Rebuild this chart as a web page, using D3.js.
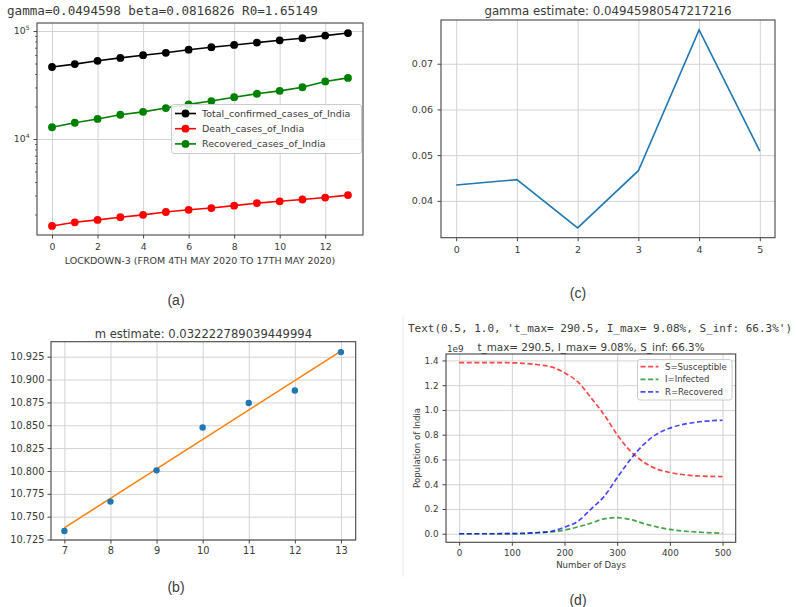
<!DOCTYPE html>
<html><head><meta charset="utf-8">
<script src="https://cdn.jsdelivr.net/npm/d3@7"></script>
<style>
body{margin:0;background:#fff}
svg{display:block}
text{font-family:'DejaVu Sans',sans-serif;fill:#3a3a3a}
</style>
</head><body>
<svg id="c" width="796" height="607"></svg>
<script>
// ---------------- DATA ----------------
// (a) Lockdown-3 cases (log scale)
const aDays = [0,1,2,3,4,5,6,7,8,9,10,11,12,13];
const aConfirmed = [46437,49400,52987,56351,59695,62808,67161,70768,74292,78055,81997,85784,90648,95698];
const aDeaths = [1568,1694,1783,1889,1985,2109,2212,2294,2415,2551,2649,2753,2871,3025];
const aRecovered = [12847,14142,15331,16776,17847,19358,20917,22455,24386,26235,27920,30153,34109,36795];
const aXTicks = [0,2,4,6,8,10,12];
const aYTicks = [1e4,1e5];
const aYMinor = [2e3,3e3,4e3,5e3,6e3,7e3,8e3,9e3,2e4,3e4,4e4,5e4,6e4,7e4,8e4,9e4];
const aSeriesNames = ["Total_confirmed_cases_of_India","Death_cases_of_India","Recovered_cases_of_India"];

// (b) m estimate
const bX = [7,8,9,10,11,12,13];
const bY = [10.7343,10.7665,10.8007,10.8475,10.8743,10.888,10.930];
const bFitX = [7,13];
const bFitY = [10.7378,10.9312];
const bXTicks = [7,8,9,10,11,12,13];
const bYTicks = [10.725,10.75,10.775,10.8,10.825,10.85,10.875,10.9,10.925];

// (c) gamma estimate
const cX = [0,1,2,3,4,5];
const cY = [0.04347,0.04464,0.0341,0.0466,0.0774,0.0509];
const cXTicks = [0,1,2,3,4,5];
const cYTicks = [0.04,0.05,0.06,0.07];

// (d) SIR model
const dDays = [0,50,100,150,175,200,225,250,275,300,325,350,375,400,450,500];
const dS = [1.383,1.383,1.381,1.365,1.348,1.30,1.228,1.10,0.963,0.80,0.668,0.58,0.523,0.495,0.468,0.462];
const dI = [0,0,0.001,0.008,0.015,0.03,0.055,0.085,0.12,0.13,0.115,0.083,0.055,0.035,0.014,0.004];
const dR = [0,0,0.001,0.01,0.02,0.053,0.10,0.198,0.30,0.453,0.60,0.72,0.805,0.853,0.901,0.917];
const dXTicks = [0,100,200,300,400,500];
const dYTicks = [0,0.2,0.4,0.6,0.8,1.0,1.2,1.4];
const dSeriesNames = ["S=Susceptible","I=Infected","R=Recovered"];

// ---------------- DRAWING ----------------
const GRID = '#d3d3d3', SPINE = '#454545', TXT = '#3a3a3a';
const svg = d3.select('#c');
svg.append('rect').attr('width',796).attr('height',607).attr('fill','#fff');

function grid(g, x, y, xt, yt) {
  const [yb, yt0] = y.range(), [xl, xr] = x.range();
  const gx = g.append('g').attr('transform',`translate(0,${yb})`)
    .call(d3.axisBottom(x).tickValues(xt).tickSize(-(yb-yt0)).tickFormat(''));
  const gy = g.append('g').attr('transform',`translate(${xl},0)`)
    .call(d3.axisLeft(y).tickValues(yt).tickSize(-(xr-xl)).tickFormat(''));
  [gx,gy].forEach(a=>{a.select('.domain').remove(); a.selectAll('line').attr('stroke',GRID).attr('stroke-width',1);});
}
function axes(g, x, y, xt, yt, xf, yf, fs, xpad, ypad) {
  const [yb] = y.range(), [xl] = x.range();
  const gx = g.append('g').attr('transform',`translate(0,${yb})`)
    .call(d3.axisBottom(x).tickValues(xt).tickSize(3.5).tickPadding(xpad).tickFormat(xf));
  const gy = g.append('g').attr('transform',`translate(${xl},0)`)
    .call(d3.axisLeft(y).tickValues(yt).tickSize(3.5).tickPadding(ypad).tickFormat(yf));
  [gx,gy].forEach(a=>{
    a.select('.domain').remove();
    a.selectAll('line').attr('stroke',SPINE).attr('stroke-width',1);
    a.selectAll('text').attr('font-size',fs).attr('fill',TXT).attr('font-family',"'DejaVu Sans',sans-serif");
  });
  return {gx, gy};
}
function spine(g, x, y) {
  const [xl,xr]=x.range(), [yb,yt]=y.range();
  g.append('rect').attr('x',xl).attr('y',yt).attr('width',xr-xl).attr('height',yb-yt)
    .attr('fill','none').attr('stroke',SPINE).attr('stroke-width',1.1);
}
function clip(id, x, y) {
  const [xl,xr]=x.range(), [yb,yt]=y.range();
  svg.append('clipPath').attr('id',id).append('rect').attr('x',xl).attr('y',yt).attr('width',xr-xl).attr('height',yb-yt);
}

// ===== Panel (a) =====
{
  const x = d3.scaleLinear().domain([-0.66,13.66]).range([37,363]);
  const y = d3.scaleLog().domain([1292,118600]).range([235,23]);
  const g = svg.append('g');
  grid(g, x, y, aXTicks, aYTicks);
  const {gy} = axes(g, x, y, aXTicks, aYTicks, d3.format('d'), d=>'', 9.3, 4.5, 4);
  gy.selectAll('.tick text').each(function(d){
    const t = d3.select(this);
    t.append('tspan').text('10');
    t.append('tspan').attr('dy',-4).attr('font-size',6).text(Math.round(Math.log10(d)));
  });
  const gm = g.append('g').attr('transform','translate(37,0)')
    .call(d3.axisLeft(y).tickValues(aYMinor).tickSize(2).tickFormat(''));
  gm.select('.domain').remove();
  gm.selectAll('line').attr('stroke',SPINE).attr('stroke-width',0.8);

  const series = [[aConfirmed,'#000000'],[aDeaths,'#ff0000'],[aRecovered,'#008000']];
  const line = d3.line().x((d,i)=>x(aDays[i])).y(d=>y(d));
  series.forEach(([vals,col])=>{
    g.append('path').datum(vals).attr('d',line).attr('fill','none').attr('stroke',col).attr('stroke-width',1.6);
    g.append('g').selectAll('circle').data(vals).join('circle')
      .attr('cx',(d,i)=>x(aDays[i])).attr('cy',d=>y(d)).attr('r',3.9).attr('fill',col);
  });
  spine(g, x, y);
  // legend
  const lg = g.append('g');
  lg.append('rect').attr('x',171.5).attr('y',104.5).attr('width',190).attr('height',49).attr('rx',2.5)
    .attr('fill','#fff').attr('fill-opacity',0.85).attr('stroke','#cccccc').attr('stroke-width',1);
  series.forEach(([vals,col],i)=>{
    const yy = 113.5 + i*15.2;
    lg.append('line').attr('x1',175).attr('x2',196).attr('y1',yy).attr('y2',yy).attr('stroke',col).attr('stroke-width',1.6);
    lg.append('circle').attr('cx',185.5).attr('cy',yy).attr('r',3.9).attr('fill',col);
    lg.append('text').attr('x',202).attr('y',yy+3.3).attr('font-size',9.5).text(aSeriesNames[i]);
  });
  g.append('text').attr('x',200).attr('y',263.5).attr('text-anchor','middle').attr('font-size',9.5)
    .text('LOCKDOWN-3 (FROM 4TH MAY 2020 TO 17TH MAY 2020)');
  g.append('text').attr('x',7).attr('y',14.5).attr('font-size',12.6)
    .style('font-family',"'DejaVu Sans Mono',monospace").text('gamma=0.0494598 beta=0.0816826 R0=1.65149');
  g.append('text').attr('x',176).attr('y',305).attr('text-anchor','middle').attr('font-size',14)
    .style('font-family',"'Liberation Sans',Arial,sans-serif").attr('fill','#222').text('(a)');
}

// ===== Panel (b) =====
{
  const x = d3.scaleLinear().domain([6.71,13.32]).range([51,355.7]);
  const y = d3.scaleLinear().domain([10.7245,10.9414]).range([540,341.7]);
  const g = svg.append('g');
  grid(g, x, y, bXTicks, bYTicks);
  axes(g, x, y, bXTicks, bYTicks, d3.format('d'), d3.format('.3f'), 9.8, 4, 3);
  g.append('path').datum(bFitX.map((v,i)=>[v,bFitY[i]]))
    .attr('d', d3.line().x(d=>x(d[0])).y(d=>y(d[1])))
    .attr('fill','none').attr('stroke','#ff7f0e').attr('stroke-width',1.5);
  g.append('g').selectAll('circle').data(bY).join('circle')
    .attr('cx',(d,i)=>x(bX[i])).attr('cy',d=>y(d)).attr('r',3.2).attr('fill','#1f77b4');
  spine(g, x, y);
  g.append('text').attr('x',203.4).attr('y',337.5).attr('text-anchor','middle').attr('font-size',11.6)
    .text('m estimate: 0.032222789039449994');
  g.append('text').attr('x',176).attr('y',592).attr('text-anchor','middle').attr('font-size',14)
    .style('font-family',"'Liberation Sans',Arial,sans-serif").attr('fill','#222').text('(b)');
}

// ===== Panel (c) =====
{
  const x = d3.scaleLinear().domain([-0.25,5.25]).range([441,775]);
  const y = d3.scaleLinear().domain([0.03194,0.07957]).range([237.7,20]);
  const g = svg.append('g');
  grid(g, x, y, cXTicks, cYTicks);
  axes(g, x, y, cXTicks, cYTicks, d3.format('d'), d3.format('.2f'), 9.5, 5, 4.5);
  g.append('path').datum(cY).attr('d', d3.line().x((d,i)=>x(cX[i])).y(d=>y(d)))
    .attr('fill','none').attr('stroke','#1f77b4').attr('stroke-width',1.6);
  spine(g, x, y);
  g.append('text').attr('x',608).attr('y',15).attr('text-anchor','middle').attr('font-size',11.8)
    .text('gamma estimate: 0.04945980547217216');
  g.append('text').attr('x',578).attr('y',298).attr('text-anchor','middle').attr('font-size',14)
    .style('font-family',"'Liberation Sans',Arial,sans-serif").attr('fill','#222').text('(c)');
}

// ===== Panel (d) =====
{
  svg.append('line').attr('x1',403).attr('x2',403).attr('y1',315).attr('y2',577)
    .attr('stroke','#ececec').attr('stroke-width',1);
  const x = d3.scaleLinear().domain([-25,525]).range([446,735.7]);
  const y = d3.scaleLinear().domain([-0.069,1.452]).range([542.3,354]);
  const g = svg.append('g');
  grid(g, x, y, dXTicks, dYTicks);
  axes(g, x, y, dXTicks, dYTicks, d3.format('d'), d3.format('.1f'), 8.8, 3.7, 4);
  clip('clipd', x, y);
  const series = [[dS,'#ff0000'],[dI,'#008000'],[dR,'#0000ff']];
  const line = d3.line().x((d,i)=>x(dDays[i])).y(d=>y(d)).curve(d3.curveMonotoneX);
  series.forEach(([vals,col])=>{
    g.append('path').datum(vals).attr('d',line).attr('clip-path','url(#clipd)')
      .attr('fill','none').attr('stroke',col).attr('stroke-opacity',0.72).attr('stroke-width',1.7)
      .attr('stroke-dasharray','5,2.6');
  });
  spine(g, x, y);
  const lg = g.append('g');
  lg.append('rect').attr('x',637.5).attr('y',359.5).attr('width',94.5).attr('height',40.5).attr('rx',2.5)
    .attr('fill','#fff').attr('fill-opacity',0.85).attr('stroke','#cccccc').attr('stroke-width',1);
  series.forEach(([vals,col],i)=>{
    const yy = 366.7 + i*12.6;
    lg.append('line').attr('x1',640.5).attr('x2',658.5).attr('y1',yy).attr('y2',yy)
      .attr('stroke',col).attr('stroke-opacity',0.72).attr('stroke-width',1.7).attr('stroke-dasharray','5,2.6');
    lg.append('text').attr('x',665).attr('y',yy+3.1).attr('font-size',8.5).text(dSeriesNames[i]);
  });
  g.append('text').attr('x',447).attr('y',352).attr('font-size',8.8).text('1e9');
  g.append('text').attr('x',591).attr('y',350.5).attr('text-anchor','middle').attr('font-size',10.4)
    .text('t_max= 290.5, I_max= 9.08%, S_inf: 66.3%');
  g.append('text').attr('x',408).attr('y',331.5).attr('font-size',11)
    .style('font-family',"'DejaVu Sans Mono',monospace")
    .text("Text(0.5, 1.0, 't_max= 290.5, I_max= 9.08%, S_inf: 66.3%')");
  g.append('text').attr('x',591).attr('y',568).attr('text-anchor','middle').attr('font-size',8.6).text('Number of Days');
  g.append('text').attr('transform','translate(420,448) rotate(-90)').attr('text-anchor','middle')
    .attr('font-size',8.6).text('Population of India');
  g.append('text').attr('x',578).attr('y',605).attr('text-anchor','middle').attr('font-size',14)
    .style('font-family',"'Liberation Sans',Arial,sans-serif").attr('fill','#222').text('(d)');
}
</script>
</body></html>
